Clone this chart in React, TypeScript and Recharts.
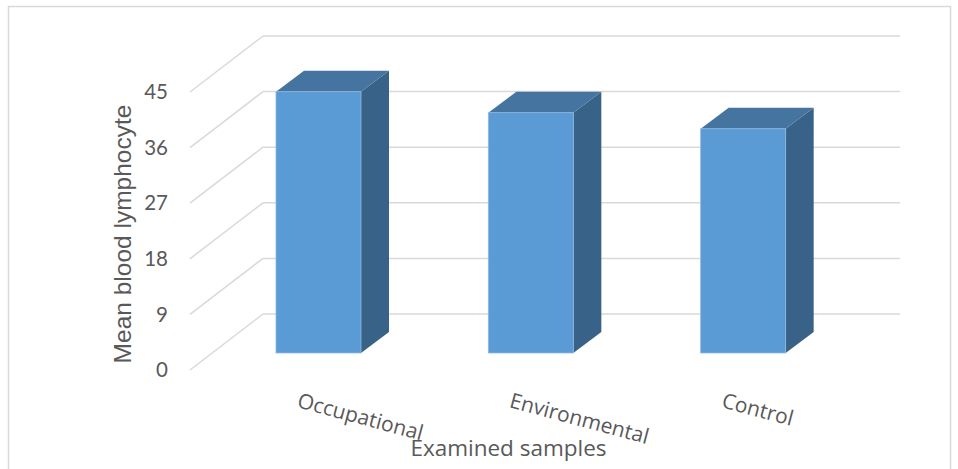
import React from 'react';
import { BarChart, Bar, XAxis, YAxis, CartesianGrid } from 'recharts';

const categories = ['Occupational', 'Environmental', 'Control'];
const lymphocyteMeans = [42.3, 38.9, 36.3];
const yTicks = [0, 9, 18, 27, 36, 45];

const data = categories.map((name, i) => ({ name, value: lymphocyteMeans[i] }));

// 3D projection offsets
const BACK_DX = 73;
const BACK_DY = -56;
const FRONT_DX = 22;
const FRONT_DY = -17;
const REAR_DX = 50;
const REAR_DY = -38;

const GRID = '#d9d9d9';
const TEXT = '#595959';

const gridLine = (props: any) => {
  const { x1, y1, x2, index } = props;
  return (
    <g key={`g-${index}`}>
      <line x1={x1} y1={y1} x2={x1 + BACK_DX} y2={y1 + BACK_DY} stroke={GRID} strokeWidth={1.5} />
      <line x1={x1 + BACK_DX} y1={y1 + BACK_DY} x2={x2 + BACK_DX} y2={y1 + BACK_DY} stroke={GRID} strokeWidth={1.5} />
    </g>
  );
};

const Bar3D = (props: any) => {
  const { x, y, width, height } = props;
  const fx = x + FRONT_DX;
  const fy = y + FRONT_DY;
  const rx = x + REAR_DX;
  const ry = y + REAR_DY;
  const top = `${fx},${fy} ${fx + width},${fy} ${rx + width},${ry} ${rx},${ry}`;
  const side = `${fx + width},${fy} ${rx + width},${ry} ${rx + width},${ry + height} ${fx + width},${fy + height}`;
  return (
    <g>
      <polygon points={side} fill="#386288" />
      <polygon points={top} fill="#44749f" />
      <rect x={fx} y={fy} width={width} height={height} fill="#5b9bd5" stroke="#8db8e2" strokeWidth={0.8} />
    </g>
  );
};

const CategoryTick = (props: any) => {
  const { x, y, payload } = props;
  const ty = y + 29;
  return (
    <text
      x={x}
      y={ty}
      textAnchor="start"
      fill={TEXT}
      fontSize={21}
      fontFamily="'Open Sans', sans-serif"
      transform={`rotate(15, ${x}, ${ty})`}
    >
      {payload.value}
    </text>
  );
};

const ValueTick = (props: any) => {
  const { x, y, payload } = props;
  return (
    <text x={x - 14} y={y} dy="0.355em" textAnchor="end" fill={TEXT} fontSize={20.5} fontFamily="Lato, sans-serif">
      {payload.value}
    </text>
  );
};

const YTitle = (props: any) => {
  const vb = props.viewBox || {};
  const cx = vb.x + 1;
  const cy = vb.y + vb.height / 2 + 3;
  return (
    <text
      x={cx}
      y={cy}
      textAnchor="middle"
      fill={TEXT}
      fontSize={24.5}
      fontFamily="'Liberation Sans', Arial, sans-serif"
      transform={`rotate(-90, ${cx}, ${cy})`}
    >
      Mean blood lymphocyte
    </text>
  );
};

const XTitle = (props: any) => {
  const vb = props.viewBox || {};
  const cx = vb.x + vb.width / 2;
  const cy = vb.y + 86;
  return (
    <text x={cx} y={cy} textAnchor="middle" fill={TEXT} fontSize={22.5} fontFamily="'Open Sans', sans-serif">
      Examined samples
    </text>
  );
};

export default function App() {
  return (
    <div style={{ position: 'absolute', left: 0, top: 0, width: 958, height: 469, background: '#fff' }}>
      <svg width={958} height={469} style={{ position: 'absolute', left: 0, top: 0 }}>
        <rect x={8.5} y={6.5} width={942} height={480} fill="none" stroke={GRID} strokeWidth={1.5} />
      </svg>
      <div style={{ position: 'absolute', left: 0, top: 0 }}>
        <BarChart
          width={958}
          height={469}
          data={data}
          margin={{ top: 92, right: 131, bottom: 59, left: 130 }}
          barSize={85}
        >
          <CartesianGrid vertical={false} horizontal={gridLine} />
          <XAxis
            dataKey="name"
            axisLine={false}
            tickLine={false}
            height={40}
            tick={<CategoryTick />}
            interval={0}
            label={<XTitle />}
          />
          <YAxis
            domain={[0, 45]}
            ticks={yTicks}
            width={60}
            axisLine={false}
            tickLine={false}
            tick={<ValueTick />}
            label={<YTitle />}
          />
          <Bar dataKey="value" shape={<Bar3D />} isAnimationActive={false} />
        </BarChart>
      </div>
    </div>
  );
}
